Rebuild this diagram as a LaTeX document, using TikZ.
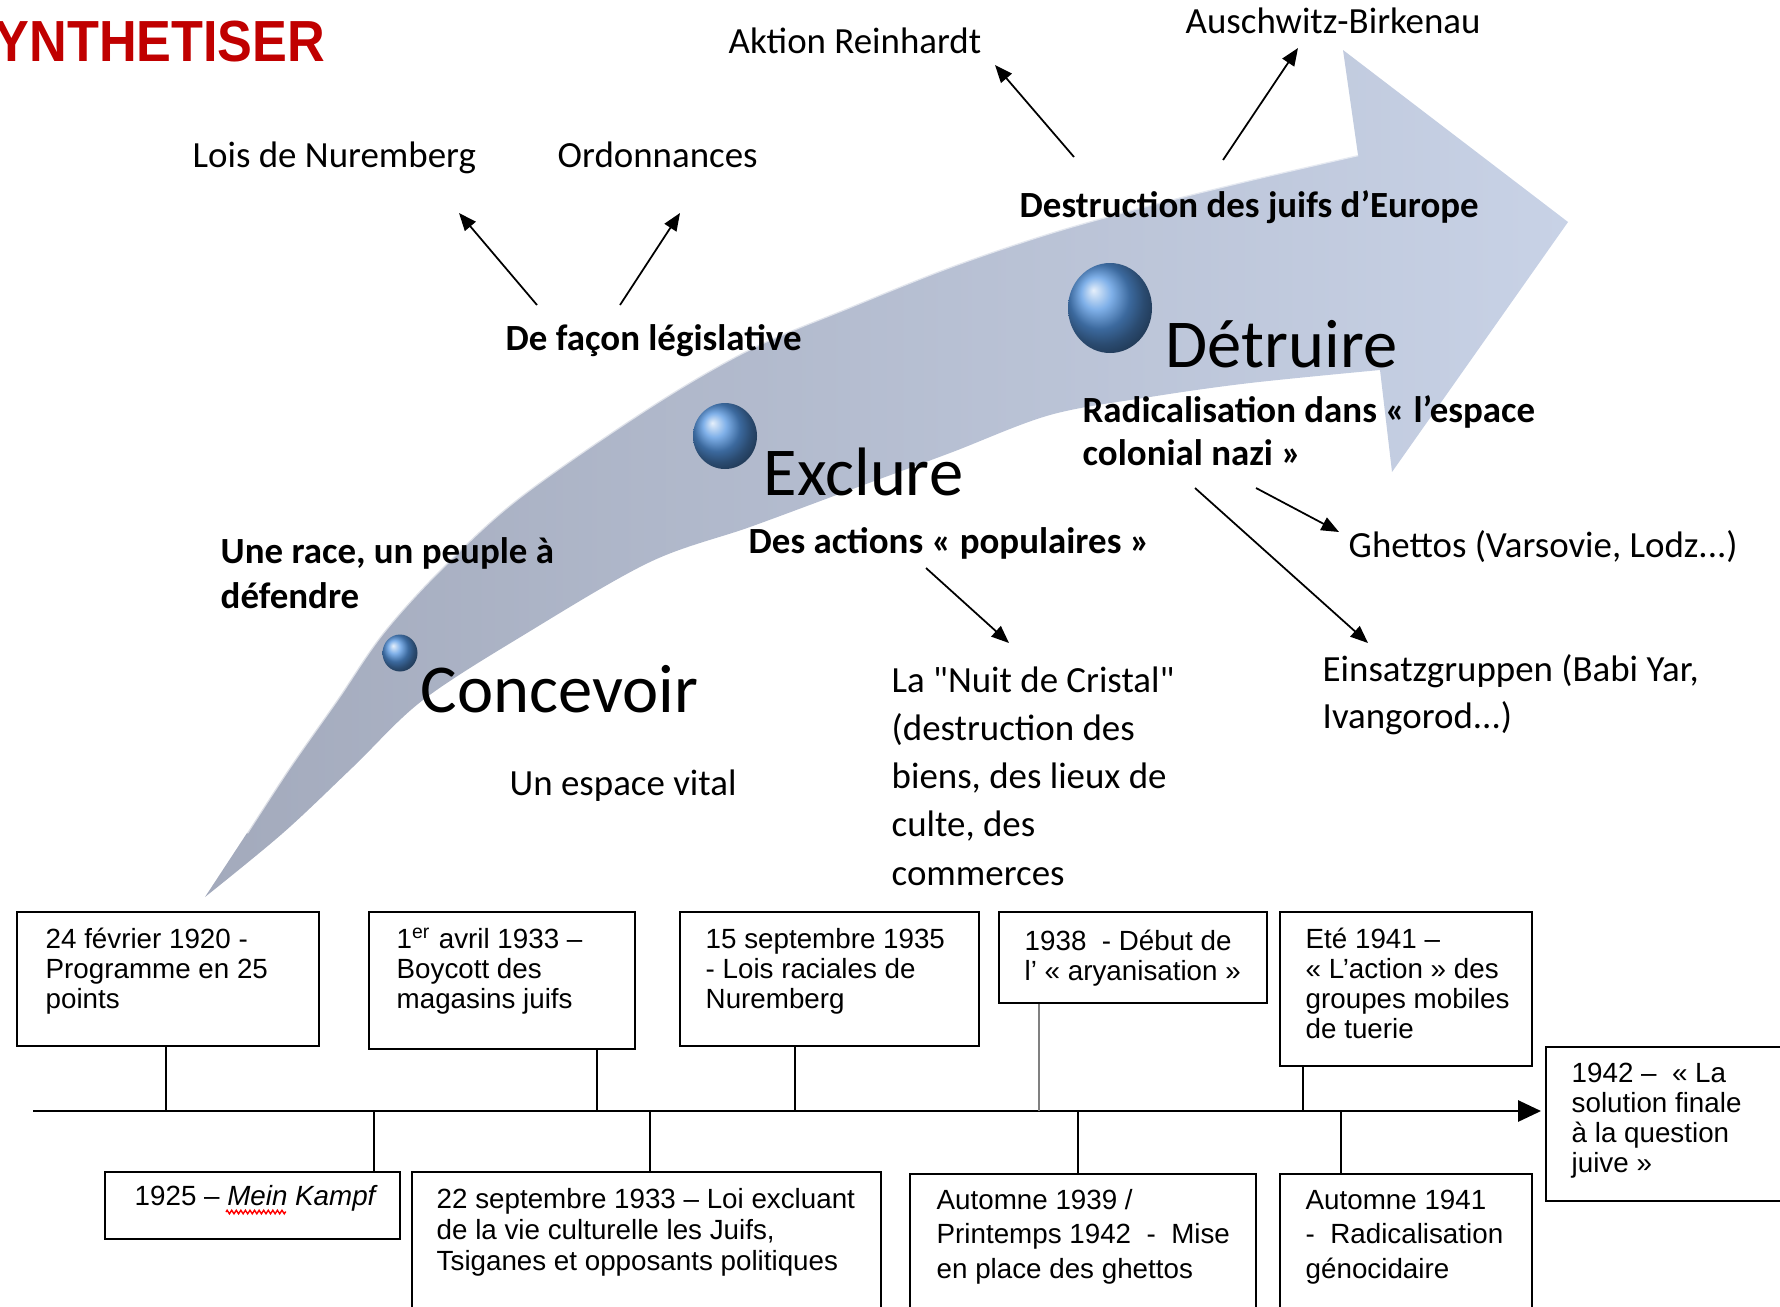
\documentclass[tikz,border=0pt]{standalone}
\usepackage{fontspec}
\setmainfont{Carlito}[Ligatures=TeXOff]
\newfontfamily\boxfont{Liberation Sans}
\newfontfamily\titlefont{Liberation Sans}[FakeStretch=0.9]
\usetikzlibrary{arrows.meta,fit,decorations.pathmorphing}
\definecolor{arrowdark}{RGB}{163,170,188}
\definecolor{arrowlight}{RGB}{200,210,230}
\definecolor{bubble}{RGB}{85,150,225}
\definecolor{titlered}{RGB}{192,0,0}

\begin{document}
\begin{tikzpicture}[x=0.1mm, y=-0.1mm,
  lbl/.style={font=\fontsize{10.5pt}{12.8pt}\selectfont, inner sep=0pt, anchor=base west, align=left},
  lblb/.style={lbl, font=\fontsize{10.5pt}{12.8pt}\selectfont\bfseries},
  stage/.style={font=\fontsize{19.5pt}{23pt}\selectfont, inner sep=0pt, anchor=base west},
  evt/.style={draw, line width=0.8pt, inner sep=0pt},
  evttxt/.style={font=\boxfont\fontsize{7.9pt}{8.5pt}\selectfont, inner sep=0pt, anchor=base west, align=left},
  tick/.style={line width=0.6pt},
  arr/.style={line width=0.5pt, -{Triangle[length=5pt,width=4pt]}}]
\useasboundingbox (0,0) rectangle (1780,1306);
\clip (0,0) rectangle (1780,1306);

% Title
\node[font=\titlefont\bfseries\fontsize{16.5pt}{18pt}\selectfont, text=titlered, inner sep=0pt, anchor=base west] (title) at (-6,61) {YNTHETISER};

% Big curved arrow
\shade[left color=arrowdark, right color=arrowlight]
  plot[smooth, tension=0.55] coordinates {(205,897) (247,833) (290,767) (337,700) (383,633) (443,567) (520,497) (650,407) (750,349) (850,307) (950,267) (1050,233) (1150,205) (1250,180) (1358,155)}
  -- (1343,50) -- (1568,222) -- (1392,472)
  -- plot[smooth, tension=0.55] coordinates {(1380,370) (1250,383) (1150,397) (1050,415) (950,453) (850,490) (750,527) (650,562) (527,633) (423,700) (353,767) (283,833) (205,897)}
  -- cycle;
\draw[white, opacity=0.6, line width=0.7pt]
  plot[smooth, tension=0.55] coordinates {(247,833) (290,767) (337,700) (383,633) (443,567) (520,497) (650,407) (750,349) (850,307) (950,267) (1050,233) (1150,205) (1250,180) (1358,155)};

% Bubbles
\shade[ball color=bubble] (400,653) ellipse [x radius=17.5, y radius=18.5];
\shade[ball color=bubble] (725,436) ellipse [x radius=32, y radius=33];
\shade[ball color=bubble] (1110,308) ellipse [x radius=42, y radius=45];

% Stages
\node[stage] (concevoir) at (420,712) {Concevoir};
\node[stage] (exclure) at (763,495) {Exclure};
\node[stage] (detruire) at (1165,367) {Détruire};

% Labels
\node[lbl] (aktion) at (728,53) {Aktion Reinhardt};
\node[lbl] (ausch) at (1185,33) {Auschwitz-Birkenau};
\node[lbl] (lois) at (192,167) {Lois de Nuremberg};
\node[lbl] (ordo) at (557,167) {Ordonnances};
\node[lblb] (legis) at (505,350) {De façon législative};
\node[lblb] (destr) at (1019,217) {Destruction des juifs d’Europe};
\node[lblb, font=\fontsize{10.5pt}{12.8pt}\selectfont\bfseries] (race) at (220,608) {Une race, un peuple à\\défendre};
\node[lbl] (espace) at (509,795) {Un espace vital};
\node[lblb] (actions) at (748,553) {Des actions « populaires »};
\node[lbl, font=\fontsize{10.5pt}{13.7pt}\selectfont] (nuit) at (891,885) {La "Nuit de Cristal"\\(destruction des\\biens, des lieux de\\culte, des\\commerces};
\node[lblb, font=\fontsize{10.5pt}{12.2pt}\selectfont\bfseries] (radical) at (1082,465) {Radicalisation dans « l’espace\\colonial nazi »};
\node[lbl] (ghettos) at (1348,557) {Ghettos (Varsovie, Lodz...)};
\node[lbl, font=\fontsize{10.5pt}{13.1pt}\selectfont] (einsatz) at (1322,728) {Einsatzgruppen (Babi Yar,\\Ivangorod...)};

% Arrows
\draw[arr] ([shift={(32,-45)}]legis.base west) -- ([shift={(267,46)}]lois.base west);
\draw[arr] ([shift={(115,-45)}]legis.base west) -- ([shift={(123,46)}]ordo.base west);
\draw[arr] ([shift={(55,-60)}]destr.base west) -- ([shift={(267,12)}]aktion.base west);
\draw[arr] ([shift={(204,-57)}]destr.base west) -- ([shift={(113,15)}]ausch.base west);
\draw[arr] ([shift={(178,15)}]actions.base west) -- ([shift={(118,-242)}]nuit.base west);
\draw[arr] ([shift={(113,23)}]radical.base west) -- ([shift={(46,-85)}]einsatz.base west);
\draw[arr] ([shift={(174,23)}]radical.base west) -- ([shift={(-9,-25)}]ghettos.base west);

% Timeline
\coordinate (ax0) at (33,1111);
\coordinate (ax1) at (1541,1111);
\draw[tick, -{Triangle[length=6.5pt,width=6pt]}] (ax0) -- (ax1);

% Events above
\node[evt, fit={(17,912) (319,1046)}] (b1) {};
\node[evt, fit={(369,912) (635,1049)}] (b2) {};
\node[evt, fit={(680,912) (979,1046)}] (b3) {};
\node[evt, fit={(999,912) (1267,1003)}] (b4) {};
\node[evt, fit={(1280,912) (1532,1066)}] (b5) {};
\node[evt, fit={(1546,1047) (1800,1201)}] (b6) {};
\node[evttxt] (b1t) at (45,1008) {24 février 1920 -\\Programme en 25\\points};
\node[evttxt] (b2t) at (396,1008) {1\textsuperscript{er} avril 1933 –\\Boycott des\\magasins juifs};
\node[evttxt] (b3t) at (705,1008) {15 septembre 1935\\- Lois raciales de\\Nuremberg};
\node[evttxt] (b4t) at (1024,980) {1938~~- Début de\\l’ « aryanisation »};
\node[evttxt] (b5t) at (1305,1038) {Eté 1941 –\\« L’action » des\\groupes mobiles\\de tuerie};
\node[evttxt] (b6t) at (1571,1172) {1942 –~~« La\\solution finale\\à la question\\juive »};

% Events below
\node[evt, fit={(105,1172) (400,1239)}] (k1) {};
\node[evt, fit={(412,1172) (881,1330)}] (k2) {};
\node[evt, fit={(910,1174) (1256,1330)}] (k3) {};
\node[evt, fit={(1280,1174) (1532,1330)}] (k4) {};
\node[evttxt] (k1t) at (134,1205) {1925 – \textit{Mein Kampf}};
\node[evttxt, font=\boxfont\fontsize{7.9pt}{8.8pt}\selectfont] (k2t) at (436,1270) {22 septembre 1933 – Loi excluant\\de la vie culturelle les Juifs,\\Tsiganes et opposants politiques};
\node[evttxt, font=\boxfont\fontsize{7.9pt}{9.7pt}\selectfont] (k3t) at (936,1278) {Automne 1939 /\\Printemps 1942~~-~~Mise\\en place des ghettos};
\node[evttxt, font=\boxfont\fontsize{7.9pt}{9.7pt}\selectfont] (k4t) at (1305,1278) {Automne 1941\\-~~Radicalisation\\génocidaire};
\draw[red, line width=0.4pt, decorate, decoration={zigzag, segment length=1.3pt, amplitude=0.5pt}] ([shift={(92,7)}]k1t.base west) -- ++(60,0);

% Ticks
\coordinate (t1) at (166,1111);
\coordinate (t2) at (597,1111);
\coordinate (t3) at (795,1111);
\coordinate (t4) at (1039,1111);
\coordinate (t5) at (1303,1111);
\coordinate (u1) at (374,1111);
\coordinate (u2) at (650,1111);
\coordinate (u3) at (1078,1111);
\coordinate (u4) at (1341,1111);
\draw[tick] (t1) -- (b1.south -| t1);
\draw[tick] (t2) -- (b2.south -| t2);
\draw[tick] (t3) -- (b3.south -| t3);
\draw[line width=0.5pt, gray] (t4) -- (b4.south -| t4);
\draw[tick] (t5) -- (b5.south -| t5);
\draw[tick] (u1) -- (k1.north -| u1);
\draw[tick] (u2) -- (k2.north -| u2);
\draw[tick] (u3) -- (k3.north -| u3);
\draw[tick] (u4) -- (k4.north -| u4);
\end{tikzpicture}
\end{document}
